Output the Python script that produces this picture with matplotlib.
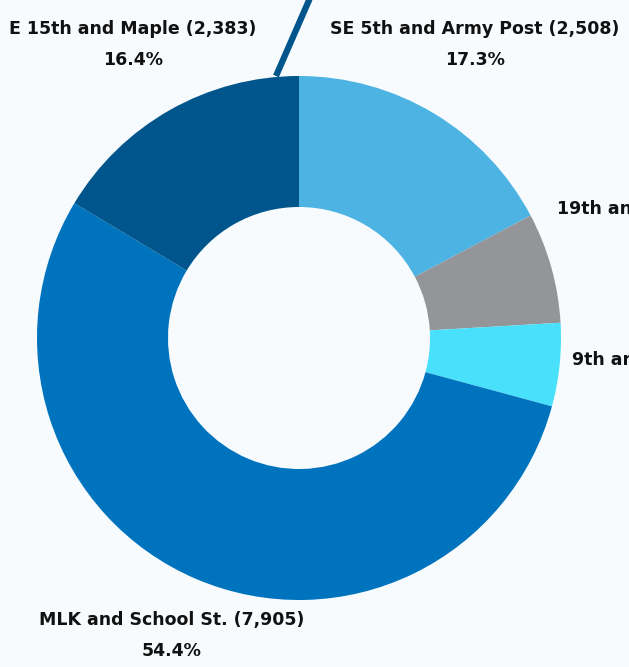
import numpy as np
import matplotlib.pyplot as plt

# Datos
sitios = ['SE 5th and Army Post', '19th and Vine', '9th and Grand',
          'MLK and School St.', 'E 15th and Maple']
valores = [2508, 990, 745, 7905, 2383]
porcentajes = ['17.3%', '6.8%', '5.1%', '54.4%', '16.4%']
colores = ['#4db3e3', '#939598', '#48e0fa', '#0073be', '#00568c']

fondo = '#f7fbfe'
plt.rcParams['font.family'] = ['DejaVu Sans']

fig = plt.figure(figsize=(6.29, 6.67), dpi=100, facecolor=fondo)
ax = fig.add_axes([0, 0, 1, 1])
ax.set_facecolor(fondo)

# Dona (coordenadas en pixeles, y hacia arriba)
centro = (299, 329)
radio = 262
ax.pie(valores, colors=colores, startangle=90, counterclock=False,
       center=centro, radius=radio,
       wedgeprops=dict(width=radio * 0.5, edgecolor='none'))
ax.set_xlim(0, 629)
ax.set_ylim(0, 667)
ax.set_aspect('equal')
ax.axis('off')

# Linea guia que sale por arriba
ax.plot([276, 310], [667 - 76, 667 + 2], color='#00568c', lw=4.5,
        solid_capstyle='butt', clip_on=False)

# Etiquetas: nombre arriba, porcentaje centrado debajo
fs = 12.5
renderer = fig.canvas.get_renderer()
def etiqueta(x, y, i, ha='center'):
    t = ax.text(x, y, f'{sitios[i]} ({valores[i]:,})', ha=ha, va='center',
                fontsize=fs, fontweight='bold', color='#111111')
    bb = t.get_window_extent(renderer).transformed(ax.transData.inverted())
    ax.text((bb.x0 + bb.x1) / 2, y - 31, porcentajes[i], ha='center',
            va='center', fontsize=fs, fontweight='bold', color='#111111')

etiqueta(133, 667 - 29, 4)
etiqueta(475, 667 - 29, 0)
etiqueta(557, 667 - 209, 1, ha='left')
etiqueta(572, 667 - 360, 2, ha='left')
etiqueta(172, 667 - 620, 3)

fig.savefig('out.png', dpi=100, facecolor=fondo)
